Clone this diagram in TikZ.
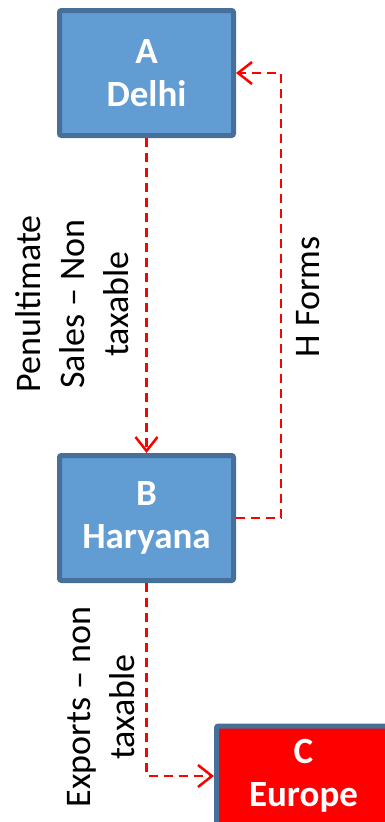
\documentclass[tikz,border=0pt]{standalone}
\usepackage{fontspec}
\setmainfont{Carlito}
\usetikzlibrary{arrows.meta}
\definecolor{boxfill}{HTML}{619CD2}
\definecolor{boxedge}{HTML}{46709A}
\definecolor{flowred}{HTML}{FF0000}
\begin{document}
\begin{tikzpicture}[x=1pt,y=-1pt,
  place/.style={draw=boxedge, line width=5pt, fill=boxfill, rounded corners=2pt,
    minimum width=174pt, minimum height=125pt, inner sep=0pt, text=white,
    align=center, font=\fontsize{37}{43}\selectfont\bfseries},
  flow/.style={draw=flowred, line width=2.7pt, dash pattern=on 9pt off 6pt,
    -{Straight Barb[length=14pt,width=22pt,line width=2.5pt]}},
  note/.style={rotate=90, align=center, font=\fontsize{36}{44}\selectfont}]
\useasboundingbox (0,0) rectangle (385,822);
\clip (0,0) rectangle (385,822);

% parties
\node[place] (A) at (146.5,73) {\raisebox{-3pt}{\parbox{170pt}{\centering A\\Delhi}}};
\node[place] (B) at (146.5,518) {\raisebox{-2pt}{\parbox{170pt}{\centering B\\Haryana}}};
\node[place, fill=flowred, minimum height=100pt] (C) at (303.5,776) {C\\Europe};

% flows
\draw[flow] (A.south) -- (B.north);
\draw[flow] (B.east) -- ++(45,0) coordinate (hturn) |- (A.east);
\draw[flow] (B.south) |- (C.west);

% labels
\node[note] (pen) at (72,304) {Penultimate\\Sales – Non\\taxable};
\node[note] (hf) at (308,297) {H Forms};
\node[note] (ex) at (101,707) {Exports – non\\taxable};
\end{tikzpicture}
\end{document}
